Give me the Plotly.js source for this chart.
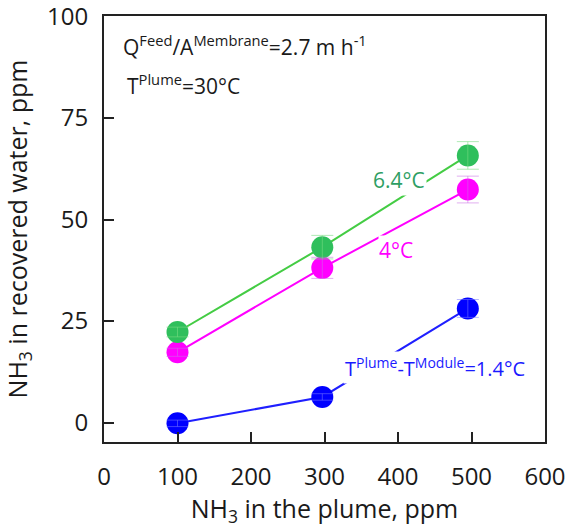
<!DOCTYPE html>
<html>
<head>
<meta charset="utf-8">
<script src="https://cdn.plot.ly/plotly-3.0.1.min.js"></script>
<style>html,body{margin:0;padding:0;background:#fff;}#chart{width:570px;height:528px;}</style>
</head>
<body>
<div id="chart"></div>
<script>
// NH3 in the plume, ppm
const plumeNH3 = [100, 297, 495];
// NH3 in recovered water, ppm
const water64 = [22.3, 43.2, 65.8];
const water4 = [17.3, 38.1, 57.4];
const water14 = [-0.2, 6.3, 28.1];
// error bars
const err64 = [1.2, 2.9, 3.4];
const err4 = [1.0, 2.6, 3.3];
const err14 = [0.8, 0.8, 2.2];

const xTicks = [0, 100, 200, 300, 400, 500, 600];
const yTicks = [0, 25, 50, 75, 100];

const FONT = '"Open Sans", "DejaVu Sans", sans-serif';

function lineTrace(y, lineColor, markerColor) {
  return {
    x: plumeNH3, y: y, type: 'scatter', mode: 'lines+markers',
    line: {color: lineColor, width: 2},
    marker: {color: markerColor, size: 22, line: {width: 0}},
    hoverinfo: 'skip', showlegend: false
  };
}
function errTrace(y, e, color) {
  return {
    x: plumeNH3, y: y, type: 'scatter', mode: 'markers',
    marker: {color: 'rgba(0,0,0,0)', size: 1},
    error_y: {type: 'data', array: e, visible: true, color: color, thickness: 1, width: 11},
    hoverinfo: 'skip', showlegend: false
  };
}

const data = [
  lineTrace(water14, '#1f1fff', '#0000ff'),
  lineTrace(water4, '#ff00ff', '#ff00ff'),
  lineTrace(water64, '#44cc44', '#2fbf5c'),
  errTrace(water14, err14, 'rgba(120,120,255,0.55)'),
  errTrace(water4, err4, 'rgba(200,110,230,0.55)'),
  errTrace(water64, err64, 'rgba(120,220,130,0.6)')
];

const layout = {
  width: 570, height: 528,
  margin: {l: 104, r: 25, t: 16, b: 86, pad: 0},
  paper_bgcolor: '#fff', plot_bgcolor: '#fff',
  font: {family: FONT, color: '#1a1a1a', size: 24},
  showlegend: false,
  xaxis: {
    range: [0, 600], tickvals: xTicks, ticktext: xTicks.map(String),
    ticks: 'inside', ticklen: 10, tickwidth: 2, tickcolor: '#222',
    showline: true, linecolor: '#222', linewidth: 2, mirror: true,
    showgrid: false, zeroline: false,
    tickfont: {family: FONT, size: 24, color: '#1a1a1a'},
    ticklabelstandoff: 12, ticklabeloverflow: 'allow',
    title: {text: 'NH<sub>3</sub> in the plume, ppm', font: {family: FONT, size: 25, color: '#1a1a1a'}, standoff: 9}
  },
  yaxis: {
    range: [-4.8, 100.15], tickvals: yTicks, ticktext: yTicks.map(String),
    ticks: 'inside', ticklen: 10, tickwidth: 2, tickcolor: '#222',
    showline: true, linecolor: '#222', linewidth: 2, mirror: true,
    showgrid: false, zeroline: false,
    tickfont: {family: FONT, size: 24, color: '#1a1a1a'},
    ticklabelstandoff: 9, ticklabeloverflow: 'allow',
    title: {text: 'NH<sub>3</sub> in recovered water, ppm', font: {family: FONT, size: 25, color: '#1a1a1a'}, standoff: 26}
  },
  annotations: [
    {x: 23, y: 92.8, xref: 'x', yref: 'y', xanchor: 'left', yanchor: 'middle', showarrow: false,
     text: 'Q<sup>Feed</sup>/A<sup>Membrane</sup>=2.7 m h<sup>-1</sup>', font: {family: FONT, size: 21, color: '#1a1a1a'}},
    {x: 29, y: 83.2, xref: 'x', yref: 'y', xanchor: 'left', yanchor: 'middle', showarrow: false,
     text: 'T<sup>Plume</sup>=30°C', font: {family: FONT, size: 21, color: '#1a1a1a'}},
    {x: 402, y: 59.8, xref: 'x', yref: 'y', xanchor: 'center', yanchor: 'middle', showarrow: false,
     text: '6.4°C', bgcolor: '#fff', borderpad: 1, font: {family: FONT, size: 21, color: '#2e9e63'}},
    {x: 397, y: 42.6, xref: 'x', yref: 'y', xanchor: 'center', yanchor: 'middle', showarrow: false,
     text: '4°C', bgcolor: '#fff', borderpad: 0, font: {family: FONT, size: 21, color: '#ff00ff'}},
    {x: 451, y: 13.5, xref: 'x', yref: 'y', xanchor: 'center', yanchor: 'middle', showarrow: false,
     text: 'T<sup>Plume</sup>-T<sup>Module</sup>=1.4°C', bgcolor: '#fff', borderpad: 1, font: {family: FONT, size: 20, color: '#1a1aff'}}
  ]
};

Plotly.newPlot('chart', data, layout, {staticPlot: true, displayModeBar: false});
</script>
</body>
</html>
